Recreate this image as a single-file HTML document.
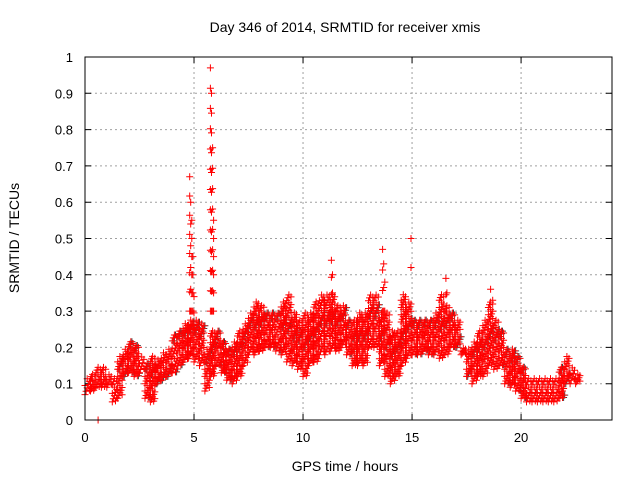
<!DOCTYPE html>
<html><head><meta charset="utf-8"><style>
body{margin:0;background:#fff;}
svg{display:block;font-family:"Liberation Sans",sans-serif;}
</style></head><body>
<svg id="chart" width="640" height="480">
<text x="345" y="32" font-size="14" text-anchor="middle">Day 346 of 2014, SRMTID for receiver xmis</text>
<text x="0" y="0" font-size="14" text-anchor="middle" transform="translate(19,238) rotate(-90)">SRMTID / TECUs</text>
<text x="345" y="471" font-size="14" text-anchor="middle">GPS time / hours</text>
<g id="grid"></g>
<g id="ticks"></g>
<g id="marks"></g>
<rect x="85" y="57" width="527" height="363" fill="none" stroke="#000" stroke-width="1"/>
</svg>
<script>
const xTicks=[0,5,10,15,20];
const yTicks=[0,0.1,0.2,0.3,0.4,0.5,0.6,0.7,0.8,0.9,1];
const yTickLabels=["0","0.1","0.2","0.3","0.4","0.5","0.6","0.7","0.8","0.9","1"];
const binStart=0, binStep=0.25;
const lowVals=[0.07,0.08,0.09,0.09,0.09,0.05,0.06,0.12,0.13,0.12,0.13,0.06,0.05,0.10,0.11,0.12,0.13,0.15,0.16,0.17,0.16,0.15,0.08,0.12,0.15,0.13,0.11,0.10,0.12,0.15,0.18,0.18,0.19,0.20,0.20,0.19,0.18,0.16,0.15,0.14,0.12,0.15,0.16,0.18,0.18,0.19,0.19,0.20,0.18,0.15,0.15,0.15,0.20,0.20,0.15,0.12,0.10,0.12,0.15,0.17,0.18,0.18,0.19,0.18,0.18,0.17,0.18,0.20,0.20,0.18,0.12,0.10,0.12,0.12,0.15,0.14,0.15,0.10,0.09,0.08,0.06,0.05,0.05,0.05,0.05,0.05,0.05,0.06,0.10,0.10,0.10];
const highVals=[0.12,0.13,0.15,0.15,0.13,0.12,0.18,0.20,0.22,0.21,0.18,0.16,0.18,0.17,0.19,0.20,0.24,0.25,0.27,0.28,0.28,0.27,0.20,0.25,0.25,0.22,0.20,0.22,0.25,0.27,0.30,0.33,0.32,0.30,0.30,0.30,0.33,0.35,0.30,0.28,0.30,0.30,0.33,0.35,0.35,0.35,0.32,0.32,0.28,0.28,0.30,0.30,0.35,0.35,0.30,0.30,0.25,0.25,0.35,0.33,0.28,0.28,0.28,0.28,0.30,0.35,0.32,0.30,0.28,0.20,0.20,0.22,0.25,0.28,0.33,0.28,0.25,0.20,0.20,0.18,0.15,0.12,0.12,0.12,0.12,0.12,0.12,0.15,0.18,0.15,0.13];
const spikeX=[4.8,4.85,4.9,4.95,5.0,5.75,5.8,5.85,5.9,11.3,11.35,13.65,13.7,13.75,16.55,16.6,18.6,18.7,14.95,0.6];
const spikeY=[0.67,0.6,0.55,0.45,0.34,0.97,0.9,0.75,0.55,0.44,0.4,0.47,0.43,0.38,0.39,0.35,0.36,0.33,0.5,0.0];
const spikeLow=[0.3,0.3,0.3,0.3,0.25,0.3,0.3,0.3,0.3,0.3,0.3,0.3,0.3,0.3,0.3,0.3,0.3,0.3,0.42,0.0];
const xMin=0,xMax=24.17,yMin=0,yMax=1;
const L=85,R=612,T=57,B=420;
const sx=v=>L+(v-xMin)/(xMax-xMin)*(R-L);
const sy=v=>B-(v-yMin)/(yMax-yMin)*(B-T);
const NS="http://www.w3.org/2000/svg";
const grid=document.getElementById('grid'),ticks=document.getElementById('ticks'),marks=document.getElementById('marks');
function mk(tag,attrs,parent){const e=document.createElementNS(NS,tag);for(const k in attrs)e.setAttribute(k,attrs[k]);parent.appendChild(e);return e;}
xTicks.forEach(t=>{
 if(t>0){const g=mk('line',{x1:sx(t),x2:sx(t),y1:T,y2:B,stroke:'#a0a0a0','stroke-dasharray':'2,3'},grid);
 
 }
 const tk=mk('path',{d:`M${sx(t)},${B}v-6M${sx(t)},${T}v6`,stroke:'#000'},ticks);
 
 
 const lb=mk('text',{x:sx(t),y:B+22,'font-size':13,'text-anchor':'middle'},ticks);lb.textContent=t;
 
 
});
yTicks.forEach((t,i)=>{
 if(t>0&&t<1){const g=mk('line',{x1:L,x2:R,y1:sy(t),y2:sy(t),stroke:'#a0a0a0','stroke-dasharray':'2,3'},grid);
 
 }
 const tk=mk('path',{d:`M${L},${sy(t)}h6M${R},${sy(t)}h-6`,stroke:'#000'},ticks);
 
 
 const lb=mk('text',{x:L-12,y:sy(t)+5,'font-size':13,'text-anchor':'end'},ticks);lb.textContent=yTickLabels[i];
 
 
});
let red='',grey='';
function plus(x,y){return `M${(x-3.5).toFixed(1)},${y.toFixed(1)}h7M${x.toFixed(1)},${(y-3.5).toFixed(1)}v7`;}
lowVals.forEach((lo,i)=>{
 const hi=highVals[i];
 for(let k=0;k<5;k++){
  const t=binStart+i*binStep+k*binStep/5;
  const n=Math.max(2,Math.round((hi-lo)/0.02));
  for(let j=0;j<=n;j+=(k%2?2:1)){
   const v=lo+(hi-lo)*((j+k*0.37)%n)/n;
   red+=plus(sx(t),sy(v));
   if(j%9==4)grey+=plus(sx(t+0.05),sy(v));
  }
 }
});
spikeX.forEach((t,i)=>{
 const span=spikeY[i]-spikeLow[i];
 const steps=Math.max(1,Math.round(span/0.055));
 for(let s=0;s<steps;s++)red+=plus(sx(t),sy(spikeLow[i]+span*s/steps));
 red+=plus(sx(t),sy(spikeY[i]));
});
const g=mk('path',{d:grey,stroke:'#404040','stroke-width':1,fill:'none'},marks);


const r=mk('path',{d:red,stroke:'#ff0000','stroke-width':1,fill:'none'},marks);


</script>
</body></html>
